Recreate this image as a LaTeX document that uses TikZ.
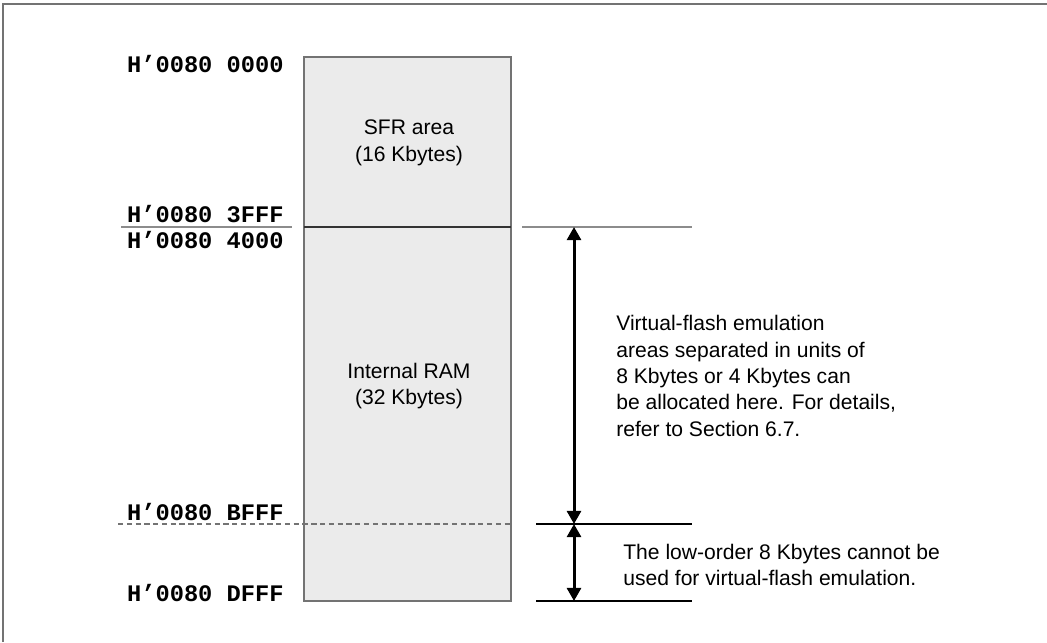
\documentclass[tikz,border=0pt]{standalone}
\usepackage{fontspec}
\setmainfont{Liberation Sans}
\setmonofont{Liberation Mono}
\usetikzlibrary{positioning,arrows.meta}
\tikzset{addr/.style={anchor=base east,inner sep=0pt,font=\ttfamily\bfseries\fontsize{13.5}{15}\selectfont},
  txt/.style={align=left,inner sep=0pt,font=\fontsize{12}{15}\selectfont},
  area/.style={draw=black!55,fill=black!8,line width=0.8pt},
  guide/.style={draw=black!45,line width=0.8pt},
  bound/.style={draw=black,line width=1.1pt},
  span/.style={line width=1.7pt,{Triangle[width=8pt,length=7.5pt]}-{Triangle[width=8pt,length=7.5pt]}}}

\begin{document}
\begin{tikzpicture}[x=0.02cm,y=-0.02cm]
        \useasboundingbox (0,0) rectangle (1047,642);
        \coordinate (fa) at (3,642);
        \coordinate (fb) at (3,4);
        \coordinate (fc) at (1047,4);
        \draw [black!55,line width=1.1pt] (fa) -- (fb) -- (fc);

        % memory block
        \coordinate (tl) at (304,57);
        \coordinate (br) at (511,601);
        \draw [area] (tl) rectangle (br);
        \coordinate (s1) at (304,227);
        \coordinate (s2) at (511,227);
        \draw [black!80,line width=0.9pt] (s1) -- (s2);
        \coordinate (d1) at (118,524);
        \draw [black!55,line width=0.8pt,dash pattern=on 3pt off 2pt] (d1) -- (br |- d1);

        \node[txt,align=center] (sfr) at (409,143) {SFR area\\(16 Kbytes)};
        \node[txt,align=center] (ram) at (409,386) {Internal RAM\\(32 Kbytes)};

        % addresses
        \node[addr] (a0) at (284,72) {H’0080 0000};
        \node[addr] (a1) at (284,222) {H’0080 3FFF};
        \node[addr] (a2) at (284,248) {H’0080 4000};
        \node[addr] (a3) at (284,520) {H’0080 BFFF};
        \node[addr] (a4) at (284,601) {H’0080 DFFF};

        % boundary lines
        \coordinate (g1) at (121,227);
        \coordinate (g2) at (292,227);
        \coordinate (g3) at (522,227);
        \coordinate (g4) at (692,227);
        \draw [guide] (g1) -- (g2);
        \draw [guide] (g3) -- (g4);
        \coordinate (b1) at (536,524);
        \coordinate (b2) at (692,524);
        \coordinate (b3) at (536,601);
        \coordinate (b4) at (692,601);
        \draw [bound] (b1) -- (b2);
        \draw [bound] (b3) -- (b4);

        % ranges
        \coordinate (p1) at (574,227);
        \coordinate (p2) at (574,524);
        \coordinate (p3) at (574,601);
        \draw [span] (p1) -- (p2);
        \draw [span] (p2) -- (p3);

        \node[txt,anchor=west] (n1) at (616,376) {Virtual-flash emulation\\areas separated in units of\\8 Kbytes or 4 Kbytes can\\be allocated here. For details,\\refer to Section 6.7.};
        \node[txt,anchor=west] (n2) at (623,565) {The low-order 8 Kbytes cannot be\\used for virtual-flash emulation.};
    \end{tikzpicture}
\end{document}
